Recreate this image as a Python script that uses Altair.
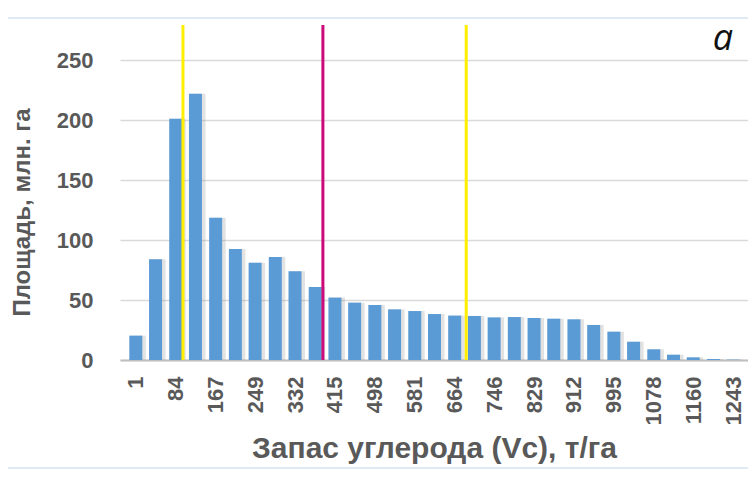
import altair as alt
import pandas as pd

# Carbon stock bin (t/ha) and area (mln ha)
vc = [1, 42, 84, 125, 167, 208, 249, 291, 332, 374, 415, 456, 498, 539, 581, 622,
      664, 705, 746, 788, 829, 870, 912, 953, 995, 1036, 1078, 1119, 1160, 1202, 1243]
area = [20.3, 84, 201, 222, 118.6, 92.5, 81, 85.8, 74, 60.8, 52, 47.8, 45.8, 42.2, 40.8, 38.3,
        37, 36.7, 35.5, 35.8, 35, 34.4, 33.9, 29.2, 23.6, 15.3, 8.9, 4.4, 2.2, 0.8, 0.3]
tick_labels = [1, 84, 167, 249, 332, 415, 498, 581, 664, 746, 829, 912, 995, 1078, 1160, 1243]
y_ticks = [0, 50, 100, 150, 200, 250]
yellow_lines = [99, 688]
magenta_lines = [390]

df = pd.DataFrame({"vc": vc, "area": area})
TXT = "#595959"
FONT = "Liberation Sans"

xscale = alt.Scale(domain=[-21.5, 1263.5], nice=False, zero=False)
yscale = alt.Scale(domain=[0, 279.2], nice=False)

frame = alt.Chart(pd.DataFrame({"k": [0]})).mark_rect(
    filled=False, stroke="#d6e3f3", strokeWidth=1.5
).encode(x=alt.value(-113), x2=alt.value(640), y=alt.value(-7), y2=alt.value(443))

shadow = alt.Chart(pd.DataFrame({"k": [0]})).mark_rect(
    fill=alt.Gradient(gradient="linear", x1=0, y1=0, x2=0, y2=1,
                      stops=[alt.GradientStop(color="#ffffff", offset=0),
                             alt.GradientStop(color="#9a9a9a", offset=1)])
).encode(x=alt.value(-107), x2=alt.value(640), y=alt.value(449), y2=alt.value(461))

bar_shadow = alt.Chart(df).mark_bar(size=16, color="#8c8c8c", opacity=0.25, xOffset=2).encode(
    x=alt.X("vc:Q", scale=xscale),
    y=alt.Y("area:Q", scale=yscale),
)

bars = alt.Chart(df).mark_bar(size=13, color="#5b9bd5").encode(
    x=alt.X("vc:Q", scale=xscale,
            axis=alt.Axis(values=tick_labels, format="d", title="Запас углерода (Vc), т/га",
                          labelAngle=-90, labelFontSize=22, labelFontWeight="bold",
                          labelColor=TXT, labelFont=FONT, labelPadding=0,
                          labelFlush=False, labelOverlap=False,
                          ticks=True, tickSize=16, tickOpacity=0,
                          grid=False, domainColor="#bfbfbf", domainWidth=2,
                          titleFontSize=30, titleFontWeight="bold", titleColor=TXT,
                          titleFont=FONT, titleX=314, titleY=97, titleAlign="center",
                          titleBaseline="alphabetic")),
    y=alt.Y("area:Q", scale=yscale,
            axis=alt.Axis(values=y_ticks, title="Площадь, млн. га",
                          labelFontSize=22, labelFontWeight="bold", labelColor=TXT,
                          labelFont=FONT, labelPadding=0,
                          ticks=True, tickSize=27, tickOpacity=0, domain=False,
                          grid=True, gridColor="#d9d9d9", gridWidth=1.5,
                          titleFontSize=24, titleFontWeight="bold", titleColor=TXT,
                          titleFont=FONT, titleX=-98, titleY=187, titleAngle=270,
                          titleAlign="center", titleBaseline="middle")),
)

ydf = pd.DataFrame({"v": yellow_lines})
mdf = pd.DataFrame({"v": magenta_lines})
yrules = alt.Chart(ydf).mark_rule(color="#ffee00", strokeWidth=3).encode(
    x=alt.X("v:Q", scale=xscale), y=alt.value(0), y2=alt.value(335))
mrules = alt.Chart(mdf).mark_rule(color="#cc0a7a", strokeWidth=3).encode(
    x=alt.X("v:Q", scale=xscale), y=alt.value(0), y2=alt.value(335))

label = alt.Chart(pd.DataFrame({"t": ["а"]})).mark_text(
    fontSize=36, fontStyle="italic", font="Open Sans", color="#111111",
    align="center", baseline="alphabetic"
).encode(x=alt.value(603), y=alt.value(25), text="t:N")

chart = alt.layer(frame, shadow, bar_shadow, bars, yrules, mrules, label).properties(
    width=628, height=335,
    autosize=alt.AutoSizeParams(type="none"),
    padding={"left": 112, "top": 17, "right": 0, "bottom": 110},
).configure_view(stroke=None)

chart.save("out.html", embed_options={"renderer": "svg", "actions": False})
